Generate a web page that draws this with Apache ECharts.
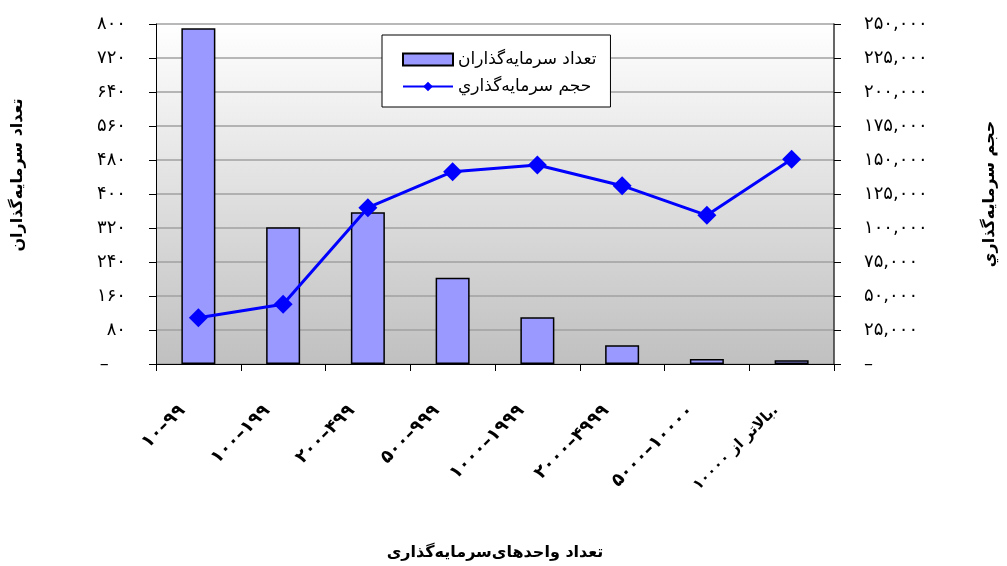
<!DOCTYPE html>
<html>
<head>
<meta charset="utf-8">
<script src="https://cdn.jsdelivr.net/npm/echarts@6/dist/echarts.min.js"></script>
<style>
html,body{margin:0;padding:0;background:#fff;}
#chart{width:1007px;height:566px;}
</style>
</head>
<body>
<div id="chart"></div>
<script>
const categories = ['۱۰–۹۹','۱۰۰–۱۹۹','۲۰۰–۴۹۹','۵۰۰–۹۹۹','۱۰۰۰–۱۹۹۹','۲۰۰۰–۴۹۹۹','۵۰۰۰–۱۰۰۰۰','بالاتر از ۱۰۰۰۰.'];
const investorCount = [790, 322, 357, 203, 110, 44, 12, 9];
const investmentVolume = [34000, 43900, 114900, 141400, 146300, 131100, 109300, 150500];
const leftTickLabels = ['–\u00a0\u00a0\u00a0','۸۰','۱۶۰','۲۴۰','۳۲۰','۴۰۰','۴۸۰','۵۶۰','۶۴۰','۷۲۰','۸۰۰'];
const rightTickLabels = ['–','۲۵,۰۰۰','۵۰,۰۰۰','۷۵,۰۰۰','۱۰۰,۰۰۰','۱۲۵,۰۰۰','۱۵۰,۰۰۰','۱۷۵,۰۰۰','۲۰۰,۰۰۰','۲۲۵,۰۰۰','۲۵۰,۰۰۰'];
const seriesNames = ['تعداد سرمایه‌گذاران','حجم سرمایه‌گذاري'];
const axisTitles = {x:'تعداد واحدهای‌سرمایه‌گذاری', left:'تعداد سرمایه‌گذاران', right:'حجم سرمایه‌گذاري'};

const FONT = 'DejaVu Sans, Arial, sans-serif';
const hasArabicLetters = s => /[\u0621-\u064A\u067E-\u06CC]/.test(s);
const chart = echarts.init(document.getElementById('chart'), null, {renderer:'canvas'});
chart.setOption({
  animation:false,
  backgroundColor:'#ffffff',
  grid:{
    left:156, right:173, top:24, bottom:202,
    outerBoundsMode:'none',
    containLabel:false,
    show:true, borderWidth:0,
    backgroundColor:new echarts.graphic.LinearGradient(0,0,0,1,[
      {offset:0,color:'#ffffff'},{offset:1,color:'#c0c0c0'}
    ])
  },
  legend:{
    orient:'vertical',
    left:382, top:35,
    padding:[16,14,12,20],
    backgroundColor:'#ffffff',
    borderColor:'#000000', borderWidth:1,
    itemWidth:50, itemHeight:12, itemGap:10,
    textStyle:{fontFamily:FONT, fontSize:17, color:'#000'},
    data:[
      {name:seriesNames[0], icon:'rect', itemStyle:{color:'#9999ff', borderColor:'#000', borderWidth:2}},
      {name:seriesNames[1]}
    ]
  },
  xAxis:{
    type:'category',
    data:categories,
    name:axisTitles.x,
    nameLocation:'middle',
    nameGap:181,
    nameTextStyle:{fontFamily:FONT, fontSize:16, fontWeight:'bold', color:'#000'},
    axisLine:{lineStyle:{color:'#000', width:1}},
    axisTick:{show:true, length:7, lineStyle:{color:'#000'}},
    axisLabel:{rotate:45, margin:40, interval:0, fontFamily:FONT, fontSize:18, fontWeight:'bold', color:'#000',
      padding:[0,14,17,0],
      formatter:function(v){ return hasArabicLetters(v) ? '{w|' + v + '}' : v; },
      rich:{w:{fontFamily:FONT, fontSize:15, fontWeight:'bold', color:'#000', padding:[0,0,0,0]}}
    }
  },
  yAxis:[
    {
      type:'value', min:0, max:800, interval:80, position:'left',
      name:axisTitles.left, nameLocation:'middle', nameGap:130, nameRotate:90,
      nameTextStyle:{fontFamily:FONT, fontSize:16, fontWeight:'bold', color:'#000', padding:[0,0,0,38]},
      axisLine:{show:true, lineStyle:{color:'#000', width:1}},
      axisTick:{show:true, length:7, lineStyle:{color:'#000'}},
      axisLabel:{margin:30, fontFamily:FONT, fontSize:18, color:'#000',
        formatter:function(v){return leftTickLabels[Math.round(v/80)];}},
      splitLine:{show:true, lineStyle:{color:'#a0a0a0', width:1.5}}
    },
    {
      type:'value', min:0, max:250000, interval:25000, position:'right',
      name:axisTitles.right, nameLocation:'middle', nameGap:148, nameRotate:90,
      nameTextStyle:{fontFamily:FONT, fontSize:16, fontWeight:'bold', color:'#000'},
      axisLine:{show:true, lineStyle:{color:'#333', width:1.5}},
      axisTick:{show:true, length:7, lineStyle:{color:'#000'}},
      axisLabel:{margin:30, fontFamily:FONT, fontSize:18, color:'#000',
        formatter:function(v){return rightTickLabels[Math.round(v/25000)];}},
      splitLine:{show:false}
    }
  ],
  series:[
    {
      name:seriesNames[0], type:'bar', yAxisIndex:0,
      data:investorCount,
      barWidth:34,
      itemStyle:{color:'#9999ff', borderColor:'#000', borderWidth:1.5}
    },
    {
      name:seriesNames[1], type:'line', yAxisIndex:1,
      data:investmentVolume,
      symbol:'diamond', symbolSize:19,
      lineStyle:{color:'#0000ff', width:3},
      itemStyle:{color:'#0000ff'}
    }
  ]
});
</script>
</body>
</html>
